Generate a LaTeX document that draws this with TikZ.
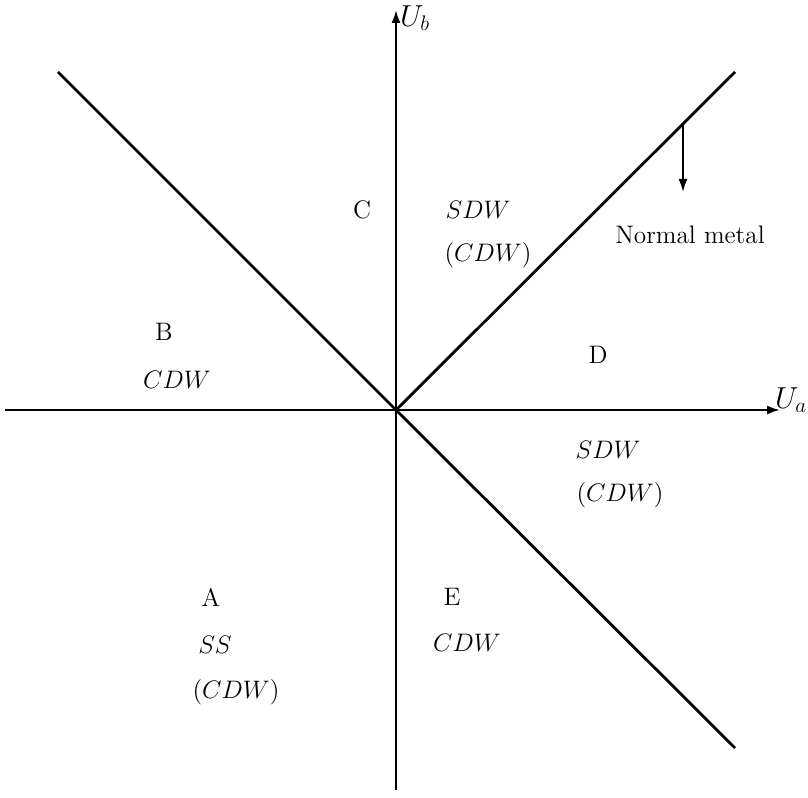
\documentclass[tikz,border=0pt]{standalone}
\usepackage{amsmath,amssymb}
\usepackage{tikz}
\usetikzlibrary{arrows.meta,positioning}

\begin{document}
\begin{tikzpicture}[
    axis/.style={line width=1.2pt, -{Latex[length=2.6mm,width=1.8mm]}},
    border/.style={line width=1.6pt},
    arrow/.style={line width=1.1pt, -{Latex[length=2.6mm,width=1.8mm]}},
    region/.style={font=\Large, inner sep=1pt},
    phase/.style={font=\Large, inner sep=1pt}
]
    \useasboundingbox (-7.92,-7.76) rectangle (8.24,8.2);

    \coordinate (O) at (0,0);
    \coordinate (xl) at (-7.82,0);
    \coordinate (xr) at (7.68,0);
    \coordinate (yb) at (0,-7.6);
    \coordinate (yt) at (0,8.0);
    \coordinate (ul) at (-6.76,6.76);
    \coordinate (lr) at (6.78,-6.76);
    \coordinate (ur) at (6.78,6.76);
    \coordinate (nmtop) at (5.74,5.74);
    \coordinate (nmend) at (5.74,4.36);

    % axes
    \draw[axis] (xl) -- (xr);
    \draw[axis] (yb) -- (yt);
    \node[anchor=east, font=\LARGE, inner sep=0pt] (ua) at (8.23,0.2) {$U_a$};
    \node[font=\LARGE, inner sep=0pt] (ub) at (0.38,7.84) {$U_b$};

    % phase boundaries
    \draw[border] (ul) -- (O) -- (lr);
    \draw[border] (O) -- (ur);
    \draw[arrow] (nmtop) -- (nmend);
    \node[region] (nm) at (5.88,3.5) {Normal metal};

    % regions
    \node[region] (C) at (-0.68,4.0) {C};
    \node[phase] (Csdw) at (1.64,4.0) {$SDW$};
    \node[phase] (Ccdw) at (1.84,3.1) {$(CDW)$};

    \node[region] (B) at (-4.64,1.56) {B};
    \node[phase] (Bcdw) at (-4.38,0.6) {$CDW$};

    \node[region] (D) at (4.04,1.1) {D};
    \node[phase] (Dsdw) at (4.24,-0.8) {$SDW$};
    \node[phase] (Dcdw) at (4.48,-1.7) {$(CDW)$};

    \node[region] (A) at (-3.7,-3.74) {A};
    \node[phase] (Ass) at (-3.62,-4.7) {$SS$};
    \node[phase] (Acdw) at (-3.2,-5.64) {$(CDW)$};

    \node[region] (E) at (1.12,-3.74) {E};
    \node[phase] (Ecdw) at (1.42,-4.66) {$CDW$};
\end{tikzpicture}
\end{document}
